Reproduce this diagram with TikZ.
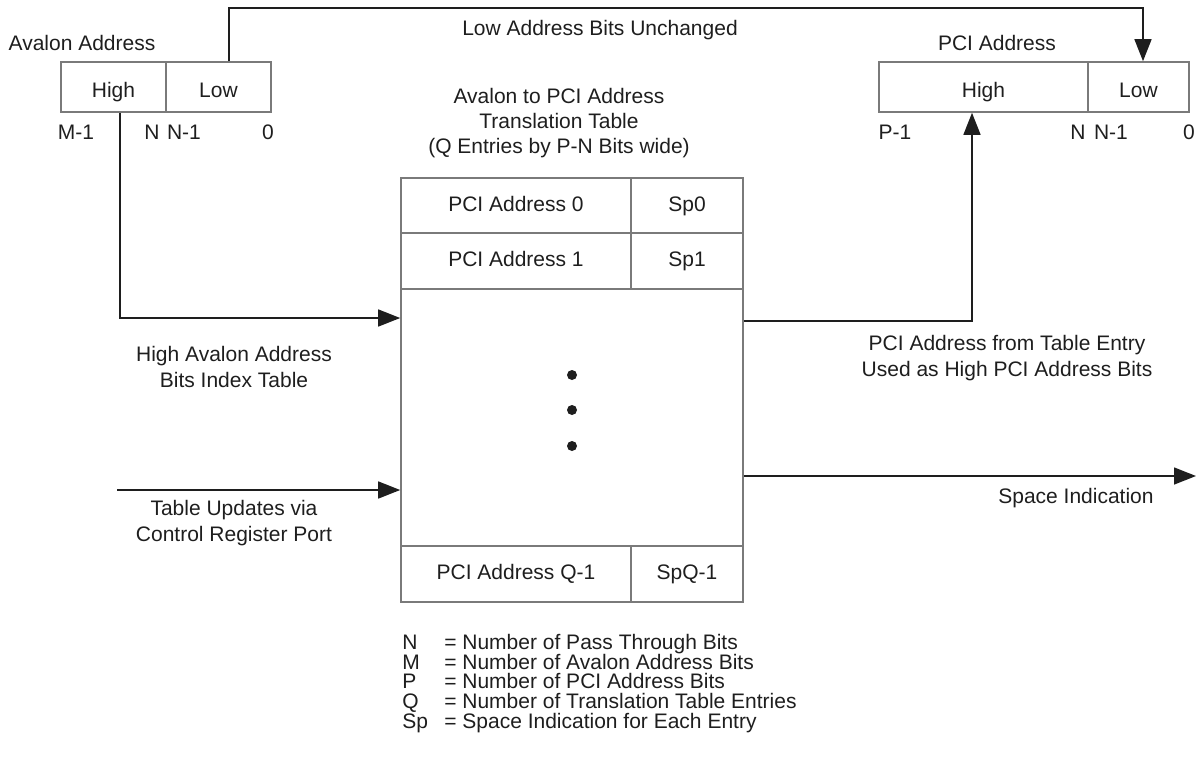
\documentclass[tikz,border=0pt]{standalone}
\usepackage{fontspec}
\setmainfont{Liberation Sans}
\usetikzlibrary{arrows.meta}
\definecolor{boxgray}{HTML}{7A7A7A}
\definecolor{ink}{HTML}{1E1E1E}
\tikzset{
  cell/.style={draw=boxgray, line width=0.8pt, inner sep=0pt, text=ink, font=\fontsize{10.5}{12.6}\selectfont, text height=7.5pt, text depth=2pt},
  regcell/.style={cell, text height=10pt, text depth=0pt},
  lbl/.style={inner sep=0pt, text=ink, font=\fontsize{10.5}{12.6}\selectfont, align=center},
  leg/.style={inner sep=0pt, text=ink, font=\fontsize{10.5}{12.6}\selectfont, anchor=west, text height=7pt, text depth=1.6pt},
  conn/.style={draw=ink, line width=0.75pt, -{Triangle[length=11pt,width=8.5pt]}},
  dotmark/.style={circle, fill=ink, inner sep=0pt, minimum size=5pt},
}
\begin{document}
\begin{tikzpicture}[x=0.5pt,y=-0.5pt]
\useasboundingbox (0,0) rectangle (1196,761);
% Avalon address register
\node[lbl] (avlab) at (82,43) {Avalon Address};
\node[regcell, minimum width=52.5pt, minimum height=25pt] (avh) at (113.5,87) {High};
\node[regcell, minimum width=52.5pt, minimum height=25pt] (avl) at (218.5,87) {Low};
\node[lbl] (bm1) at (76,132) {M-1};
\node[lbl] (bn) at (152,132) {N};
\node[lbl] (bn1) at (184,132) {N-1};
\node[lbl] (b0) at (268,132) {0};
% PCI address register
\node[lbl] (pclab) at (997,43) {PCI Address};
\node[regcell, minimum width=104.5pt, minimum height=25pt] (pch) at (983.5,87) {High};
\node[regcell, minimum width=50.5pt, minimum height=25pt] (pcl) at (1138.5,87) {Low};
\node[lbl] (pp1) at (895,132) {P-1};
\node[lbl] (pn) at (1078,132) {N};
\node[lbl] (pn1) at (1111,132) {N-1};
\node[lbl] (p0) at (1189,132) {0};
% Top label
\node[lbl] (lowlab) at (600,30) {Low Address Bits Unchanged};
% Table
\node[lbl] (ttitle) at (559,123) {Avalon to PCI Address\\Translation Table\\(Q Entries by P-N Bits wide)};
\node[cell, minimum width=115pt, minimum height=27.5pt] (r0a) at (516,205.5) {PCI Address 0};
\node[cell, minimum width=56pt, minimum height=27.5pt] (r0b) at (687,205.5) {Sp0};
\node[cell, minimum width=115pt, minimum height=28pt] (r1a) at (516,261) {PCI Address 1};
\node[cell, minimum width=56pt, minimum height=28pt] (r1b) at (687,261) {Sp1};
\node[cell, minimum width=171pt, minimum height=128.5pt] (body) at (572,417.5) {};
\node[cell, minimum width=115pt, minimum height=28pt] (rqa) at (516,574) {PCI Address Q-1};
\node[cell, minimum width=56pt, minimum height=28pt] (rqb) at (687,574) {SpQ-1};
\node[dotmark] (d1) at (572,375) {};
\node[dotmark] (d2) at (572,410) {};
\node[dotmark] (d3) at (572,446) {};
% Side labels
\node[lbl] (hilab) at (234,367) {High Avalon Address\\Bits Index Table};
\node[lbl] (tulab) at (234,523) {Table Updates via\\Control Register Port};
\node[lbl] (pflab) at (1007,358) {PCI Address from Table Entry\\Used as High PCI Address Bits};
\node[lbl] (silab) at (1076,498) {Space Indication};
% Connector points
\coordinate (t1) at (229,8);
\coordinate (t2) at (1143,8);
\coordinate (j1) at (120,318);
\coordinate (r1) at (972,321);
\coordinate (tu) at (117,490);
\coordinate (se) at (1196,476);
% Connectors
\draw[conn] (avl.north -| t1) |- (t2) -- (pcl.north -| t2);
\draw[conn] (avh.south -| j1) |- (body.west |- j1);
\draw[conn] (body.east |- r1) -| (pch.south -| r1);
\draw[conn] (tu) -- (body.west |- tu);
\draw[conn] (body.east |- se) -- (se);
% Legend
\foreach \k/\t [count=\i from 0] in {N/Number of Pass Through Bits, M/Number of Avalon Address Bits, P/Number of PCI Address Bits, Q/Number of Translation Table Entries, Sp/Space Indication for Each Entry}{
  \node[leg] (lk\i) at (402,644+19.75*\i) {\k};
  \node[leg] (le\i) at (444,644+19.75*\i) {=};
  \node[leg] (lt\i) at (462,644+19.75*\i) {\t};
}
\end{tikzpicture}
\end{document}
